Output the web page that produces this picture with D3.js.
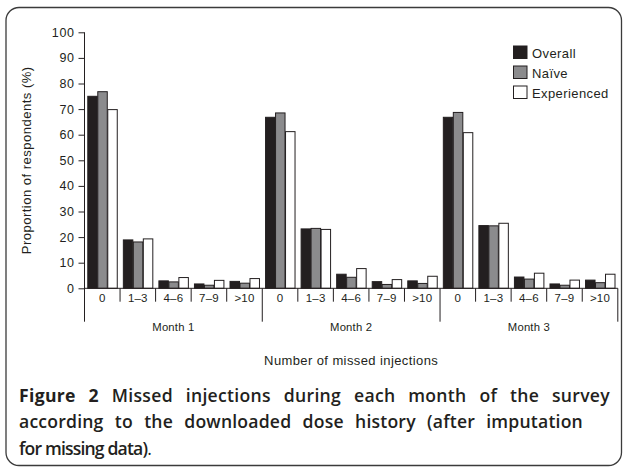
<!DOCTYPE html>
<html>
<head>
<meta charset="utf-8">
<script src="https://cdn.jsdelivr.net/npm/d3@7"></script>
<style>
  html, body { margin: 0; padding: 0; background: #fff; }
  svg { display: block; }
</style>
</head>
<body>
<svg id="chart" width="624" height="467"></svg>
<script>
// ---- data ----
const months = ["Month 1", "Month 2", "Month 3"];
const categories = ["0", "1\u20133", "4\u20136", "7\u20139", ">10"];
const series = ["Overall", "Na\u00efve", "Experienced"];
// values per (month, category), in order Month1[0..>10], Month2[...], Month3[...]
const overallValues     = [75.0, 18.9, 2.9, 1.7, 2.7,  66.8, 23.2, 5.5, 2.6, 2.9,  66.8, 24.5, 4.4, 1.7, 3.2];
const naiveValues       = [76.8, 18.1, 2.5, 1.2, 2.0,  68.5, 23.4, 4.3, 1.5, 1.9,  68.7, 24.4, 3.6, 1.2, 2.2];
const experiencedValues = [69.8, 19.3, 4.2, 3.1, 3.8,  61.2, 23.0, 7.7, 3.4, 4.7,  60.8, 25.4, 5.9, 3.2, 5.5];
const yTickValues = [0, 10, 20, 30, 40, 50, 60, 70, 80, 90, 100];
const yLabel = "Proportion of respondents (%)";
const xLabel = "Number of missed injections";
const captionLines = [
  [{t: "Figure 2", b: true}, {t: " Missed injections during each month of the survey", b: false}],
  [{t: "according to the downloaded dose history (after imputation", b: false}],
  [{t: "for missing data)", b: false}, {t: ".", b: false, light: true}]
];

(function () {
// ---- build table ----
const keys = [];
months.forEach(m => categories.forEach(c => keys.push(m + "|" + c)));
const seriesValues = [overallValues, naiveValues, experiencedValues];
const table = keys.map((k, i) => ({
  key: k, month: k.split("|")[0], cat: k.split("|")[1],
  vals: series.map((s, j) => ({s, v: seriesValues[j][i]}))
}));

const colors = {"Overall": "#231f20", "Na\u00efve": "#8b8b8d", "Experienced": "#ffffff"};
const ink = "#231f20";
const font = "'Liberation Sans', Arial, Helvetica, sans-serif";

const svg = d3.select("#chart");

// frame
svg.append("rect")
  .attr("x", 6).attr("y", 7.5).attr("width", 615.5).attr("height", 458)
  .attr("rx", 13).attr("ry", 13)
  .attr("fill", "none").attr("stroke", "#3b3b3b").attr("stroke-width", 1.3);

const plotLeft = 84.5, plotRight = 617.8, plotTop = 32.3, base = 288.3;

const x0 = d3.scaleBand().domain(keys).range([plotLeft, plotRight]).paddingInner(0).paddingOuter(0);
const xm = d3.scaleBand().domain(months).range([plotLeft, plotRight]);
const x1 = d3.scaleBand().domain(series).range([0, x0.bandwidth()]).paddingInner(0).paddingOuter(0.28);
const y = d3.scaleLinear().domain([0, 100]).range([base, plotTop]);

// bars
const g = svg.append("g");
g.selectAll("g.cat").data(table).join("g")
  .attr("class", "cat")
  .attr("transform", d => `translate(${x0(d.key)},0)`)
  .selectAll("rect").data(d => d.vals).join("rect")
  .attr("x", d => x1(d.s) + 0.5)
  .attr("y", d => y(d.v))
  .attr("width", x1.bandwidth() - 0.5)
  .attr("height", d => base - y(d.v))
  .attr("fill", d => colors[d.s])
  .attr("stroke", ink).attr("stroke-width", 1);

// y axis
const yAxis = d3.axisLeft(y).tickValues(yTickValues).tickSize(6).tickPadding(4);
const ya = svg.append("g").attr("transform", `translate(${plotLeft},0)`).call(yAxis);
ya.select(".domain").remove();
ya.selectAll("line").attr("stroke", ink).attr("stroke-width", 1);
ya.selectAll("text").attr("fill", ink).style("font-family", font)
  .style("font-size", "12.5px").style("letter-spacing", "0.6px");

// y axis line (extends down to the month label band)
svg.append("line").attr("x1", plotLeft).attr("x2", plotLeft).attr("y1", plotTop).attr("y2", 321.7)
  .attr("stroke", ink).attr("stroke-width", 1);
// baseline
svg.append("line").attr("x1", plotLeft).attr("x2", plotRight).attr("y1", base).attr("y2", base)
  .attr("stroke", ink).attr("stroke-width", 1);

// category separators
keys.forEach((k, i) => {
  if (i % categories.length === 0) return;
  const xx = x0(k);
  svg.append("line").attr("x1", xx).attr("x2", xx).attr("y1", base).attr("y2", 301.7)
    .attr("stroke", ink).attr("stroke-width", 1);
});
// month separators
months.forEach((m, i) => {
  if (i === 0) return;
  const xx = xm(m);
  svg.append("line").attr("x1", xx).attr("x2", xx).attr("y1", base).attr("y2", 321.7)
    .attr("stroke", ink).attr("stroke-width", 1);
});
svg.append("line").attr("x1", plotRight).attr("x2", plotRight).attr("y1", base).attr("y2", 321.7)
  .attr("stroke", ink).attr("stroke-width", 1);

// category labels
svg.append("g").selectAll("text").data(table).join("text")
  .attr("x", d => x0(d.key) + x0.bandwidth() / 2)
  .attr("y", 301.5)
  .attr("text-anchor", "middle")
  .attr("fill", ink)
  .style("font-family", font).style("font-size", "11.5px").style("letter-spacing", "0.2px")
  .text(d => d.cat);

// month labels
svg.append("g").selectAll("text").data(months).join("text")
  .attr("x", d => xm(d) + xm.bandwidth() / 2)
  .attr("y", 330.5)
  .attr("text-anchor", "middle")
  .attr("fill", ink)
  .style("font-family", font).style("font-size", "11.3px").style("letter-spacing", "0.2px")
  .text(d => d);

// x title
svg.append("text")
  .attr("x", (plotLeft + plotRight) / 2).attr("y", 365)
  .attr("text-anchor", "middle").attr("fill", ink)
  .style("font-family", font).style("font-size", "13px").style("letter-spacing", "0.4px")
  .text(xLabel);

// y title
svg.append("text")
  .attr("transform", `translate(31,${(plotTop + base) / 2}) rotate(-90)`)
  .attr("text-anchor", "middle").attr("fill", ink)
  .style("font-family", font).style("font-size", "13px").style("letter-spacing", "0.5px")
  .text(yLabel);

// legend
const lg = svg.append("g").attr("transform", "translate(513.5,46)");
series.forEach((s, i) => {
  lg.append("rect").attr("x", 0).attr("y", i * 20).attr("width", 13.5).attr("height", 12.5)
    .attr("fill", colors[s]).attr("stroke", ink).attr("stroke-width", 1);
  lg.append("text").attr("x", 18.5).attr("y", i * 20 + 11.7)
    .attr("fill", ink)
    .style("font-family", font).style("font-size", "13px").style("letter-spacing", "0.4px")
    .text(s);
});

// caption
const capFont = "'Open Sans', 'Noto Sans', sans-serif";
const capX = 19;
const capBase = [401.5, 428.3, 455];
const capEnd = [610, 583, 151];
captionLines.forEach((line, i) => {
  const t = svg.append("text").attr("x", capX).attr("y", capBase[i])
    .attr("fill", ink)
    .style("font-family", capFont).style("font-size", "17.6px").style("font-weight", 600);
  line.forEach(p => {
    t.append("tspan").text(p.t)
      .style("font-weight", p.b ? 700 : (p.light ? 400 : 600));
  });
  const target = capEnd[i] - capX;
  const w = t.node().getComputedTextLength();
  const txt = line.map(p => p.t).join("");
  const spaces = txt.split(" ").length - 1;
  const n = txt.length;
  const diff = target - w;
  if (i === 2 || diff < 0) {
    t.style("letter-spacing", (diff / n) + "px");
  } else {
    const ls = diff * 0.2 / n;
    t.style("letter-spacing", ls + "px");
    const w2 = t.node().getComputedTextLength();
    if (spaces > 0) t.style("word-spacing", ((target - w2) / spaces) + "px");
  }
});
})();
</script>
</body>
</html>
